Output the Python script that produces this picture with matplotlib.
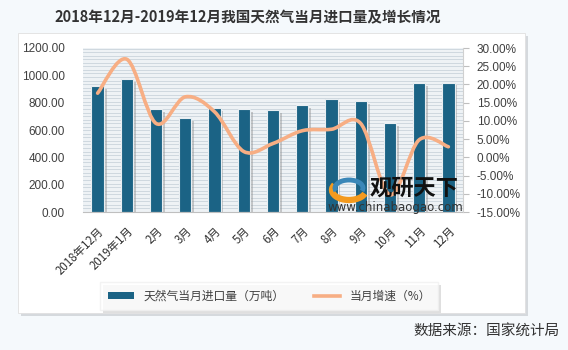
import matplotlib
matplotlib.use("Agg")
import matplotlib.pyplot as plt
from matplotlib.path import Path
from matplotlib.patches import PathPatch, Rectangle, Arc
import matplotlib.patheffects as pe
from matplotlib.lines import Line2D
from matplotlib.patches import Patch

plt.rcParams['font.family'] = ['Noto Sans CJK SC', 'DejaVu Sans']

# ---- data ----
categories = ['2018年12月', '2019年1月', '2月', '3月', '4月', '5月', '6月',
              '7月', '8月', '9月', '10月', '11月', '12月']
imports = [920, 975, 751, 685, 758, 751, 746, 783, 826, 814, 649, 941, 946]
growth = [17.6, 26.9, 9.3, 16.6, 12.5, 1.6, 3.8, 7.3, 7.7, 9.3, -10.3, 4.8, 2.9]
left_ticks = [0, 200, 400, 600, 800, 1000, 1200]
right_ticks = [-15, -10, -5, 0, 5, 10, 15, 20, 25, 30]

W, H = 568, 350
fig = plt.figure(figsize=(W / 100, H / 100), dpi=100)
fig.patch.set_facecolor('#F5F9FC')

def fx(px):
    return px / W

def fy(py):
    return 1 - py / H

# panel with shadow
panel_l, panel_t, panel_r, panel_b = 18, 33, 525, 313
fig.patches.append(Rectangle((fx(panel_l + 3), fy(panel_b + 3)), fx(panel_r - panel_l), (panel_b - panel_t) / H,
                             transform=fig.transFigure, facecolor='#D5D9DD', edgecolor='none', zorder=-2))
fig.patches.append(Rectangle((fx(panel_l), fy(panel_b)), fx(panel_r - panel_l), (panel_b - panel_t) / H,
                             transform=fig.transFigure, facecolor='white', edgecolor='#E0E0E0', lw=0.6, zorder=-1))

# title
fig.text(fx(248), fy(17), '2018年12月-2019年12月我国天然气当月进口量及增长情况',
         ha='center', va='center', fontsize=10.5, fontweight='bold', color='#333333')

# axes
ax_l, ax_r, ax_t, ax_b = 83, 463, 48, 212
ax = fig.add_axes([fx(ax_l), fy(ax_b), fx(ax_r - ax_l), (ax_b - ax_t) / H])
ax.set_facecolor('#EEF2F5')
x = list(range(len(categories)))
ax.set_xlim(-0.5, len(categories) - 0.5)
ax.set_ylim(0, 1200)

# striped background
yy = 0
while yy <= 1200:
    ax.axhline(yy, color='#C9D3DB', lw=0.6, zorder=0.5)
    yy += 26
ax.bar(x, imports, width=0.42, color='#1B6385', edgecolor='#E8EEF2', linewidth=0.8, zorder=2,
       path_effects=[pe.SimplePatchShadow(offset=(2, -2), shadow_rgbFace='#909090', alpha=0.45), pe.Normal()])

ax.set_yticks(left_ticks)
ax.set_yticklabels([f'{v:.2f}' for v in left_ticks], fontsize=8.5, color='#404040', family='Liberation Sans')
ax.tick_params(axis='y', length=0, pad=13)
ax.set_xticks(x)
ax.set_xticklabels(categories, rotation=45, ha='right', rotation_mode='anchor', fontsize=8.3, color='#333333')
ax.tick_params(axis='x', length=0, pad=9)
for s in ['top', 'right', 'left']:
    ax.spines[s].set_visible(False)
ax.spines['bottom'].set_color('#BFBFBF')

ax2 = ax.twinx()
ax2.set_ylim(-15, 30)
ax2.set_yticks(right_ticks)
ax2.set_yticklabels([f'{v:.2f}%' for v in right_ticks], fontsize=8.5, color='#404040', family='Liberation Sans')
ax2.tick_params(axis='y', length=4, color='#BFBFBF', pad=6)
for s in ['top', 'left', 'bottom']:
    ax2.spines[s].set_visible(False)
ax2.spines['right'].set_color('#D0D0D0')

# smooth (Catmull-Rom style Bezier) line through data points
pts = list(zip(x, growth))
n = len(pts)
verts = [pts[0]]
codes = [Path.MOVETO]
for i in range(n - 1):
    p0 = pts[i - 1] if i > 0 else pts[i]
    p1 = pts[i]
    p2 = pts[i + 1]
    p3 = pts[i + 2] if i + 2 < n else pts[i + 1]
    c1 = (p1[0] + (p2[0] - p0[0]) / 6, p1[1] + (p2[1] - p0[1]) / 6)
    c2 = (p2[0] - (p3[0] - p1[0]) / 6, p2[1] - (p3[1] - p1[1]) / 6)
    verts += [c1, c2, p2]
    codes += [Path.CURVE4] * 3
ax2.add_patch(PathPatch(Path(verts, codes), facecolor='none', edgecolor='#F7AE84', lw=2.6,
                        capstyle='round', joinstyle='round', zorder=3))

# watermark (logo + text)
lx, ly = 349, 190
fig.patches.append(Arc((fx(lx), fy(ly)), 34 / W, 20 / H, theta1=150, theta2=340, transform=fig.transFigure,
                       color='#F39A1E', lw=4.5, zorder=9))
fig.patches.append(Arc((fx(lx), fy(ly - 2)), 28 / W, 16 / H, theta1=-20, theta2=200, transform=fig.transFigure,
                       color='#3A87B8', lw=3.5, zorder=9))
fig.text(fx(370), fy(188), '观研天下', fontsize=16, fontweight='bold', color='#111111', ha='left', va='center', zorder=10)
fig.text(fx(328), fy(207), 'www.chinabaogao.com', fontsize=8.5, color='#333333', ha='left', va='center',
         family='DejaVu Sans', zorder=10)

# legend
handles = [Patch(facecolor='#1B6385', edgecolor='none'),
           Line2D([0], [0], color='#F7AE84', lw=2.6)]
leg = fig.legend(handles, ['天然气当月进口量（万吨）', '当月增速（%）'], loc='center left',
                 bbox_to_anchor=(fx(98), fy(296)), ncol=2, fontsize=8.5, frameon=True,
                 handlelength=2.2, handleheight=0.5, columnspacing=2.5, borderpad=0.35,
                 labelcolor='#404040')
leg.get_frame().set_facecolor('white')
leg.get_frame().set_edgecolor('#F0F0F0')
leg.get_frame().set_boxstyle('square')
leg.get_frame().set_path_effects([pe.SimplePatchShadow(offset=(2, -2), shadow_rgbFace='#C0C0C0', alpha=0.5), pe.Normal()])

# source
fig.text(fx(560), fy(332), '数据来源：国家统计局', fontsize=10.5, color='#333333', ha='right', va='center')

fig.savefig('out.png', dpi=100, facecolor=fig.get_facecolor())
